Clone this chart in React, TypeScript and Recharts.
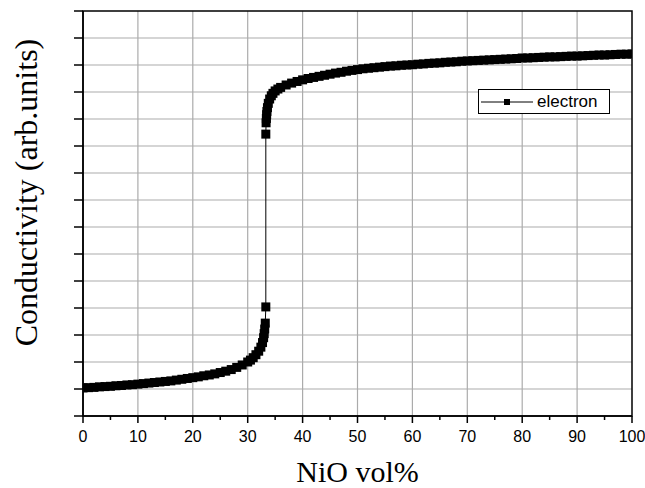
import React from "react";
import {
  ComposedChart,
  Line,
  XAxis,
  YAxis,
  CartesianGrid,
  ReferenceArea,
  Legend,
  Label,
} from "recharts";

// NiO volume fraction (x) and conductivity in grid units (y)
const nioVol = [
  0, 1, 2, 3, 4, 5, 6, 7, 8, 9, 10, 11, 12, 13, 14, 15, 16, 17, 18, 19, 20,
  21, 22, 23, 24, 25, 26, 27, 28, 29, 30, 30.5, 31, 31.5, 32, 32.4, 32.7, 32.9,
  33.0, 33.1, 33.2, 33.3, 33.3, 33.35, 33.4, 33.45, 33.5, 33.6, 33.75, 34.0,
  34.3, 34.6, 35.0, 35.5, 36, 37, 38, 39, 40, 41, 42, 43, 44, 45, 46, 47, 48,
  49, 50, 51, 52, 53, 54, 55, 56, 57, 58, 59, 60, 61, 62, 63, 64, 65, 66, 67,
  68, 69, 70, 71, 72, 73, 74, 75, 76, 77, 78, 79, 80, 81, 82, 83, 84, 85, 86,
  87, 88, 89, 90, 91, 92, 93, 94, 95, 96, 97, 98, 99, 100,
];
const conductivity = [
  1.04, 1.05, 1.06, 1.08, 1.09, 1.1, 1.12, 1.13, 1.15, 1.16, 1.18, 1.2, 1.22,
  1.24, 1.26, 1.28, 1.3, 1.33, 1.36, 1.39, 1.42, 1.45, 1.49, 1.52, 1.56, 1.61,
  1.66, 1.72, 1.8, 1.89, 2.0, 2.07, 2.16, 2.27, 2.4, 2.55, 2.72, 2.9, 3.05,
  3.22, 3.44, 4.04, 10.44, 10.86, 11.02, 11.16, 11.28, 11.42, 11.58, 11.74,
  11.86, 11.95, 12.04, 12.11, 12.17, 12.26, 12.33, 12.39, 12.45, 12.5, 12.54,
  12.58, 12.62, 12.66, 12.7, 12.73, 12.77, 12.8, 12.83, 12.86, 12.88, 12.9,
  12.92, 12.94, 12.96, 12.97, 12.99, 13.0, 13.01, 13.03, 13.04, 13.06, 13.07,
  13.08, 13.1, 13.11, 13.12, 13.14, 13.15, 13.16, 13.17, 13.18, 13.19, 13.2,
  13.21, 13.22, 13.23, 13.24, 13.26, 13.26, 13.27, 13.28, 13.29, 13.3, 13.3,
  13.31, 13.32, 13.33, 13.33, 13.34, 13.35, 13.36, 13.37, 13.37, 13.38, 13.39,
  13.4, 13.4, 13.41,
];

const xTicks = [0, 5, 10, 15, 20, 25, 30, 35, 40, 45, 50, 55, 60, 65, 70, 75, 80, 85, 90, 95, 100];
const xGrid = [10, 20, 30, 40, 50, 60, 70, 80, 90];
const yTicks = [0, 1, 2, 3, 4, 5, 6, 7, 8, 9, 10, 11, 12, 13, 14, 15];
const yGrid = [1, 2, 3, 4, 5, 6, 7, 8, 9, 10, 11, 12, 13, 14];
const seriesName = "electron";

const data = nioVol.map((x, i) => ({ x, y: conductivity[i] }));

const SANS = "'Liberation Sans', Arial, sans-serif";
const SERIF = "'Liberation Serif', 'Times New Roman', serif";

function XTick({ x, y, payload }: any) {
  const major = payload.value % 10 === 0;
  return (
    <g>
      <line x1={x} x2={x} y1={y} y2={y + (major ? 7 : 4)} stroke="#000" strokeWidth={1.5} />
      {major && (
        <text x={x} y={y + 26} textAnchor="middle" fontFamily={SANS} fontSize={16} fill="#000">
          {payload.value}
        </text>
      )}
    </g>
  );
}

function SquareDot(props: any) {
  const { cx, cy, index } = props;
  if (cx == null || cy == null) return <g key={index} />;
  return <rect key={index} x={cx - 4.5} y={cy - 4.5} width={9} height={9} fill="#000" />;
}

function LegendBox() {
  return (
    <div
      style={{
        border: "1px solid #000",
        background: "#fff",
        width: 130,
        height: 23,
        display: "flex",
        alignItems: "center",
        boxSizing: "content-box",
      }}
    >
      <svg width={54} height={12} style={{ marginLeft: 2 }}>
        <line x1={0} x2={52} y1={6} y2={6} stroke="#000" strokeWidth={1} />
        <rect x={23} y={3} width={6} height={6} fill="#000" />
      </svg>
      <span style={{ fontFamily: SANS, fontSize: 17, color: "#000", marginLeft: 2 }}>{seriesName}</span>
    </div>
  );
}

export default function App() {
  return (
    <div style={{ width: 645, height: 488 }}>
      {/* full-bleed page so the "100" tick label at the right edge is not cut */}
      <style>{"body { margin: 0; }"}</style>
      <ComposedChart
        width={645}
        height={488}
        data={data}
        margin={{ top: 11, right: 13, bottom: 0, left: 0 }}
      >
        <CartesianGrid
          stroke="#ababab"
          strokeWidth={1.2}
          verticalValues={xGrid}
          horizontalValues={yGrid}
        />
        <XAxis
          dataKey="x"
          type="number"
          domain={[0, 100]}
          ticks={xTicks}
          allowDataOverflow
          height={72}
          tickSize={0}
          tickMargin={0}
          tickLine={false}
          tick={<XTick />}
          axisLine={{ stroke: "#000", strokeWidth: 1.5 }}
          interval={0}
        >
          <Label
            content={({ viewBox }: any) => (
              <text
                x={viewBox.x + viewBox.width / 2}
                y={viewBox.y + 66}
                textAnchor="middle"
                fontFamily={SERIF}
                fontSize={30}
                fill="#000"
              >
                NiO vol%
              </text>
            )}
          />
        </XAxis>
        <YAxis
          type="number"
          domain={[0, 15]}
          ticks={yTicks}
          width={83}
          tickSize={9}
          tick={() => <g />}
          tickLine={{ stroke: "#000", strokeWidth: 1.5 }}
          axisLine={{ stroke: "#000", strokeWidth: 1.5 }}
          interval={0}
        >
          <Label
            content={({ viewBox }: any) => {
              const cx = viewBox.x + 37;
              const cy = viewBox.y + viewBox.height / 2 - 21;
              return (
                <text
                  transform={`translate(${cx},${cy}) rotate(-90)`}
                  textAnchor="middle"
                  fontFamily={SERIF}
                  fontSize={32}
                  fill="#000"
                >
                  Conductivity (arb.units)
                </text>
              );
            }}
          />
        </YAxis>
        <ReferenceArea x1={0} x2={100} y1={0} y2={15} fill="none" stroke="#000" strokeWidth={1.5} />
        <Line
          dataKey="y"
          name={seriesName}
          type="linear"
          stroke="#000"
          strokeWidth={1}
          dot={SquareDot}
          activeDot={false}
          isAnimationActive={false}
        />
        <Legend
          layout="vertical"
          align="center"
          verticalAlign="middle"
          content={() => <LegendBox />}
          wrapperStyle={{ position: "absolute", left: 478, top: 89, width: "auto", height: "auto" }}
        />
      </ComposedChart>
    </div>
  );
}
